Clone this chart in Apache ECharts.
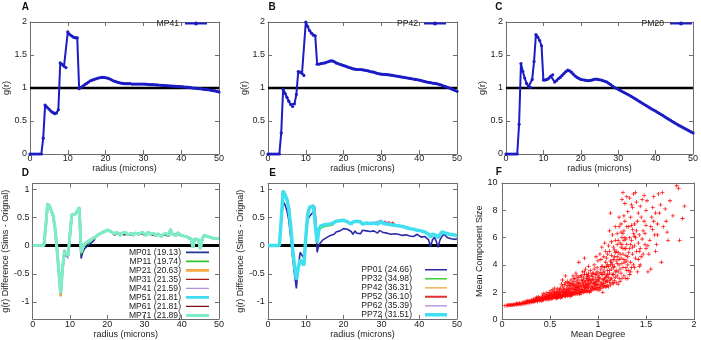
<!DOCTYPE html>
<html><head><meta charset="utf-8">
<script src="https://cdn.jsdelivr.net/npm/echarts@6/dist/echarts.min.js"></script>
<style>html,body{margin:0;padding:0;background:#fff}#c{width:701px;height:340px}</style>
</head><body><div id="c"></div>
<script>
// ---------- data ----------
const radius = [0,0.5,1,1.5,2,2.5,3,3.5,4,4.5,5,5.5,6,6.5,7,7.5,8,8.5,9,9.5,10,10.5,11,11.5,12,12.5,13,13.5,14,14.5,15,15.5,16,16.5,17,17.5,18,18.5,19,19.5,20,20.5,21,21.5,22,22.5,23,23.5,24,24.5,25,25.5,26,26.5,27,27.5,28,28.5,29,29.5,30,30.5,31,31.5,32,32.5,33,33.5,34,34.5,35,35.5,36,36.5,37,37.5,38,38.5,39,39.5,40,40.5,41,41.5,42,42.5,43,43.5,44,44.5,45,45.5,46,46.5,47,47.5,48,48.5,49,49.5,50];

const gMP41 = [0,0,0,0,0,0,0,0.24,0.74,0.71,0.68,0.65,0.63,0.61,0.62,0.67,1.38,1.36,1.33,1.31,1.85,1.81,1.79,1.77,1.76,1.76,0.99,1.01,1.03,1.05,1.07,1.09,1.11,1.12,1.13,1.14,1.15,1.155,1.16,1.16,1.155,1.15,1.14,1.125,1.11,1.10,1.09,1.08,1.075,1.07,1.065,1.065,1.065,1.065,1.06,1.06,1.06,1.06,1.06,1.06,1.06,1.058,1.055,1.053,1.05,1.05,1.048,1.046,1.044,1.042,1.04,1.038,1.036,1.034,1.032,1.03,1.028,1.026,1.024,1.022,1.02,1.017,1.015,1.012,1.01,1.005,1.0,0.998,0.995,0.992,0.99,0.985,0.98,0.978,0.975,0.97,0.965,0.96,0.955,0.948,0.94];

const gPP42 = [0,0,0,0,0,0,0,0.32,0.98,0.92,0.86,0.80,0.75,0.72,0.76,0.90,1.25,1.24,1.22,1.19,2.0,1.93,1.87,1.83,1.80,1.79,1.36,1.36,1.37,1.375,1.38,1.39,1.40,1.41,1.41,1.40,1.38,1.37,1.36,1.35,1.34,1.33,1.32,1.31,1.30,1.29,1.285,1.28,1.28,1.28,1.275,1.27,1.265,1.26,1.25,1.245,1.24,1.23,1.22,1.215,1.21,1.207,1.205,1.202,1.20,1.195,1.19,1.185,1.18,1.175,1.17,1.165,1.16,1.155,1.15,1.145,1.14,1.135,1.13,1.125,1.12,1.112,1.105,1.097,1.09,1.085,1.08,1.075,1.07,1.065,1.06,1.05,1.04,1.03,1.02,1.01,1.0,0.988,0.975,0.962,0.95];

const gPM20 = [0,0,0,0,0,0,0,0.45,1.37,1.25,1.15,1.07,1.02,1.01,1.13,1.40,1.81,1.77,1.72,1.64,1.12,1.12,1.13,1.15,1.18,1.20,1.09,1.11,1.14,1.16,1.19,1.22,1.25,1.27,1.26,1.24,1.21,1.18,1.16,1.145,1.13,1.125,1.12,1.115,1.11,1.115,1.12,1.13,1.135,1.13,1.125,1.12,1.11,1.10,1.09,1.07,1.05,1.03,1.01,0.995,0.98,0.965,0.95,0.935,0.92,0.905,0.89,0.872,0.855,0.838,0.82,0.802,0.785,0.768,0.75,0.732,0.715,0.698,0.68,0.665,0.65,0.632,0.615,0.598,0.58,0.562,0.545,0.528,0.51,0.492,0.475,0.458,0.44,0.425,0.41,0.395,0.38,0.365,0.35,0.335,0.32];

// panel D: base curve and per-series corrections
const dMPBase = [0,0,0,0,0,0,0,0.35,0.74,0.70,0.62,0.52,0.3,-0.05,-0.45,-0.85,-0.4,-0.1,-0.14,-0.18,0.2,0.55,0.57,0.56,0.62,0.66,-0.12,-0.02,0.03,0.06,0.08,0.1,0.12,0.15,0.16,0.19,0.21,0.22,0.24,0.25,0.27,0.26,0.25,0.22,0.2,0.24,0.21,0.18,0.22,0.2,0.23,0.19,0.21,0.22,0.18,0.22,0.2,0.21,0.19,0.23,0.22,0.18,0.24,0.2,0.19,0.22,0.17,0.21,0.19,0.16,0.2,0.18,0.21,0.17,0.29,0.2,0.22,0.18,0.23,0.19,0.2,0.17,0.19,0.15,0.16,0.12,-0.04,0.12,0.15,0.1,-0.06,0.12,0.18,0.2,0.16,0.19,0.14,0.17,0.12,0.15,0.13];
const mp01Fix = [[17,-0.08],[18,-0.2],[19,-0.13],[26,-0.23],[27,-0.1],[28,-0.05],[29,-0.02],[30,0.01],[31,0.03],[32,0.06],[33,0.1]];
const mp11Fix = [[26,-0.16],[28,0.0],[29,0.03],[30,0.05],[31,0.08],[32,0.1]];
const mp21Fix = [[15,-0.9],[16,-0.42]];
const mp31Fix = [[45,0.22],[49,0.18],[57,0.19],[63,0.22],[71,0.2]];
const mp41Fix = [[18,-0.18],[19,-0.23],[20,0.15]];
const mp51Fix = [[25,0.68],[40,0.28]];
const mp61Fix = [[44,0.18],[47,0.2],[53,0.19],[59,0.2],[65,0.19],[69,0.18],[77,0.2],[85,0.1],[88,0.13]];
const mp71Fix = [];
const mpNames = ['MP01 (19.13)','MP11 (19.74)','MP21 (20.63)','MP31 (21.35)','MP41 (21.59)','MP51 (21.81)','MP61 (21.81)','MP71 (21.89)'];

// panel E
const dPP01 = [0,0,0,0,0,0,0,0.4,0.78,0.72,0.62,0.45,0.15,-0.2,-0.5,-0.76,-0.4,-0.12,-0.15,-0.22,0.1,0.45,0.52,0.55,0.6,0.55,-0.12,0.02,0.06,0.1,0.12,0.14,0.15,0.18,0.17,0.2,0.24,0.22,0.26,0.27,0.3,0.28,0.29,0.26,0.25,0.2,0.26,0.22,0.25,0.21,0.27,0.24,0.26,0.23,0.25,0.22,0.26,0.24,0.22,0.27,0.25,0.23,0.26,0.22,0.24,0.2,0.23,0.21,0.24,0.2,0.22,0.18,0.21,0.19,0.2,0.17,0.2,0.16,0.18,0.2,0.17,0.15,0.18,0.16,0.15,0.1,-0.02,0.1,0.15,0.08,-0.03,0.1,0.16,0.2,0.18,0.14,0.16,0.12,0.14,0.11,0.12];
const dPPBase = [0,0,0,0,0,0,0,0.45,0.97,0.9,0.82,0.65,0.35,-0.05,-0.35,-0.6,-0.4,-0.25,-0.28,-0.35,0.15,0.55,0.68,0.66,0.7,0.68,0.05,0.3,0.35,0.34,0.37,0.36,0.38,0.4,0.39,0.42,0.43,0.41,0.44,0.42,0.45,0.43,0.42,0.4,0.38,0.42,0.39,0.43,0.4,0.42,0.38,0.41,0.4,0.42,0.39,0.41,0.4,0.42,0.38,0.41,0.43,0.39,0.41,0.38,0.4,0.37,0.39,0.36,0.38,0.35,0.37,0.34,0.35,0.32,0.34,0.3,0.32,0.29,0.3,0.27,0.29,0.26,0.27,0.24,0.25,0.2,0.15,0.2,0.22,0.18,0.14,0.2,0.24,0.25,0.22,0.24,0.2,0.22,0.19,0.2,0.18];
const pp32Fix = [[27,0.26],[28,0.31],[29,0.31],[30,0.34],[31,0.33],[32,0.35],[33,0.37],[34,0.36],[35,0.39]];
const pp42Fix = [[8,0.95],[15,-0.58]];
const pp52Fix = [[60,0.44],[62,0.43],[64,0.42],[66,0.41]];
const pp62Fix = [[22,0.7],[23,0.68],[24,0.72],[58,0.43],[60,0.45],[62,0.43],[64,0.42]];
const pp72Fix = [];
const ppNames = ['PP01 (24.66)','PP32 (34.98)','PP42 (36.31)','PP52 (36.10)','PP62 (35.39)','PP72 (31.51)'];

// panel F: mean degree vs mean component size
const degreeSize = [
[0.03,1.02],[0.05,1.04],[0.06,1.03],[0.08,1.06],[0.09,1.05],[0.1,1.08],[0.07,1.07],
[0.11,1.07],[0.12,1.1],[0.13,1.09],[0.14,1.12],[0.15,1.1],[0.16,1.14],[0.17,1.13],[0.18,1.16],[0.19,1.12],[0.2,1.18],[0.15,1.17],[0.18,1.2],
[0.21,1.15],[0.22,1.2],[0.23,1.18],[0.24,1.25],[0.25,1.22],[0.26,1.28],[0.27,1.2],[0.28,1.3],[0.29,1.24],[0.3,1.33],[0.22,1.28],[0.25,1.35],[0.27,1.4],[0.29,1.38],[0.24,1.17],
[0.31,1.27],[0.32,1.35],[0.33,1.3],[0.34,1.42],[0.35,1.36],[0.36,1.48],[0.37,1.33],[0.38,1.45],[0.39,1.4],[0.4,1.52],[0.31,1.45],[0.33,1.5],[0.35,1.55],[0.37,1.6],[0.39,1.58],[0.32,1.38],[0.34,1.32],[0.36,1.4],[0.38,1.65],[0.4,1.42],[0.36,1.62],
[0.41,1.38],[0.42,1.5],[0.43,1.44],[0.44,1.6],[0.45,1.48],[0.46,1.7],[0.47,1.55],[0.48,1.65],[0.49,1.52],[0.5,1.75],[0.41,1.62],[0.42,1.72],[0.43,1.56],[0.44,1.8],[0.45,1.66],[0.46,1.52],[0.47,1.85],[0.48,1.45],[0.49,1.7],[0.5,1.6],[0.43,1.9],[0.46,1.95],[0.48,1.78],[0.5,1.9],[0.42,1.42],[0.45,1.58],[0.47,1.62],[0.49,2.0],
[0.51,1.5],[0.52,1.65],[0.53,1.58],[0.54,1.75],[0.55,1.62],[0.56,1.85],[0.57,1.7],[0.58,1.92],[0.59,1.66],[0.6,1.8],[0.51,1.82],[0.52,1.95],[0.53,1.72],[0.54,2.05],[0.55,1.88],[0.56,1.6],[0.57,2.1],[0.58,1.78],[0.59,2.0],[0.6,2.2],[0.51,2.1],[0.53,2.2],[0.55,2.0],[0.57,1.95],[0.59,1.85],[0.52,1.55],[0.54,1.68],[0.56,1.72],[0.58,1.6],[0.6,1.7],[0.55,2.3],[0.58,2.25],[0.53,1.85],[0.57,1.55],[0.6,2.05],
[0.61,1.6],[0.62,1.75],[0.63,1.68],[0.64,1.9],[0.65,1.72],[0.66,2.0],[0.67,1.82],[0.68,2.15],[0.69,1.78],[0.7,2.05],[0.61,1.95],[0.62,2.1],[0.63,1.85],[0.64,2.25],[0.65,2.0],[0.66,1.7],[0.67,2.3],[0.68,1.9],[0.69,2.2],[0.7,2.4],[0.61,2.3],[0.63,2.45],[0.65,2.2],[0.67,2.1],[0.69,2.0],[0.62,1.65],[0.64,1.8],[0.66,1.85],[0.68,1.72],[0.7,1.85],[0.65,2.55],[0.68,2.5],[0.63,2.05],[0.67,1.95],[0.7,2.25],[0.62,2.6],[0.66,2.7],[0.69,2.65],[0.64,2.0],[0.61,1.8],[0.66,3.2],[0.63,2.9],
[0.71,1.7],[0.72,1.9],[0.73,1.8],[0.74,2.05],[0.75,1.85],[0.76,2.2],[0.77,1.95],[0.78,2.35],[0.79,1.9],[0.8,2.25],[0.71,2.1],[0.72,2.3],[0.73,2.0],[0.74,2.45],[0.75,2.2],[0.76,1.88],[0.77,2.5],[0.78,2.1],[0.79,2.4],[0.8,2.6],[0.71,2.5],[0.73,2.65],[0.75,2.4],[0.77,2.3],[0.79,2.15],[0.72,1.78],[0.74,1.95],[0.76,2.0],[0.78,1.9],[0.8,2.0],[0.75,2.8],[0.78,2.75],[0.73,2.25],[0.77,2.15],[0.8,2.4],[0.72,2.9],[0.76,3.0],[0.79,2.9],[0.74,2.6],[0.71,1.9],[0.76,2.55],[0.79,2.65],[0.74,3.2],[0.77,3.4],[0.8,3.1],
[0.81,1.85],[0.82,2.05],[0.83,1.95],[0.84,2.2],[0.85,2.0],[0.86,2.4],[0.87,2.1],[0.88,2.55],[0.89,2.05],[0.9,2.4],[0.81,2.3],[0.82,2.5],[0.83,2.2],[0.84,2.65],[0.85,2.4],[0.86,2.05],[0.87,2.75],[0.88,2.3],[0.89,2.6],[0.9,2.85],[0.81,2.7],[0.83,2.9],[0.85,2.6],[0.87,2.5],[0.89,2.35],[0.82,1.95],[0.84,2.1],[0.86,2.2],[0.88,2.05],[0.9,2.15],[0.85,3.05],[0.88,3.0],[0.83,2.45],[0.87,2.35],[0.9,2.6],[0.82,3.2],[0.86,3.3],[0.89,3.15],[0.84,2.85],[0.81,2.05],[0.86,2.8],[0.89,2.9],[0.84,3.5],[0.87,3.7],[0.9,3.4],[0.8,4.2],[0.86,4.5],[0.9,3.9],
[0.91,2.0],[0.92,2.25],[0.93,2.1],[0.94,2.45],[0.95,2.2],[0.96,2.65],[0.97,2.3],[0.98,2.8],[0.99,2.25],[1.0,2.6],[0.91,2.55],[0.92,2.75],[0.93,2.4],[0.94,2.95],[0.95,2.65],[0.96,2.25],[0.97,3.05],[0.98,2.5],[0.99,2.9],[1.0,3.2],[0.91,3.0],[0.93,3.25],[0.95,2.9],[0.97,2.7],[0.99,2.55],[0.92,2.1],[0.94,2.3],[0.96,2.4],[0.98,2.2],[1.0,2.35],[0.95,3.4],[0.98,3.35],[0.93,2.75],[0.97,2.6],[1.0,2.9],[0.92,3.6],[0.96,3.7],[0.99,3.5],[0.94,3.15],[0.96,4.0],
[1.01,2.15],[1.02,2.45],[1.03,2.3],[1.04,2.7],[1.05,2.4],[1.06,2.9],[1.07,2.5],[1.08,3.1],[1.09,2.45],[1.1,2.85],[1.01,2.8],[1.02,3.0],[1.03,2.6],[1.04,3.3],[1.05,2.95],[1.06,2.4],[1.07,3.4],[1.08,2.75],[1.09,3.2],[1.1,3.6],[1.01,3.4],[1.03,3.7],[1.05,3.3],[1.07,3.0],[1.09,2.8],[1.02,2.3],[1.04,2.55],[1.06,2.65],[1.08,2.4],[1.1,2.5],[1.05,3.9],[1.08,4.2],[1.03,4.4],[1.07,3.8],[1.1,4.0],[1.05,2.0],[1.02,4.8],[1.08,5.0],
[1.11,2.4],[1.12,2.75],[1.13,2.55],[1.14,3.0],[1.15,2.7],[1.16,3.3],[1.17,2.85],[1.18,3.5],[1.19,2.7],[1.2,3.2],[1.11,3.1],[1.12,3.4],[1.13,2.95],[1.14,3.7],[1.15,3.3],[1.16,2.65],[1.17,3.9],[1.18,3.1],[1.19,3.6],[1.2,4.1],[1.11,3.9],[1.13,4.3],[1.15,4.0],[1.17,4.6],[1.19,4.3],[1.12,5.0],[1.14,4.7],[1.16,5.3],[1.18,4.9],[1.2,5.5],[1.15,6.2],[1.18,6.8],[1.13,7.8],[1.12,6.5],
[1.21,2.6],[1.22,3.0],[1.23,2.8],[1.24,3.4],[1.25,3.0],[1.26,3.8],[1.27,3.2],[1.28,4.2],[1.29,3.0],[1.3,3.6],[1.21,3.5],[1.22,4.0],[1.23,3.7],[1.24,4.5],[1.25,4.1],[1.26,4.8],[1.27,4.4],[1.28,5.2],[1.29,4.7],[1.3,5.5],[1.21,4.9],[1.23,5.6],[1.25,6.0],[1.27,6.5],[1.29,5.9],[1.22,6.8],[1.24,7.0],[1.26,6.3],[1.28,7.2],[1.3,6.8],[1.25,8.8],[1.26,9.3],[1.28,8.5],[1.3,9.0],[1.22,7.5],
[1.31,3.0],[1.32,3.6],[1.33,3.3],[1.34,4.2],[1.35,3.8],[1.36,4.8],[1.37,4.0],[1.38,5.4],[1.39,4.5],[1.4,5.0],[1.31,4.6],[1.33,5.2],[1.35,5.8],[1.37,6.3],[1.39,6.0],[1.32,6.8],[1.34,7.5],[1.36,8.2],[1.38,7.0],[1.4,8.6],[1.33,8.9],[1.37,9.2],[1.35,8.4],[1.31,7.9],[1.39,9.3],[1.36,6.6],
[1.41,3.5],[1.42,4.4],[1.43,3.9],[1.44,5.2],[1.45,4.6],[1.46,5.9],[1.47,6.5],[1.48,7.2],[1.49,5.5],[1.5,6.9],[1.42,7.8],[1.44,8.3],[1.46,8.8],[1.48,9.1],[1.5,8.0],[1.43,6.2],
[1.52,3.5],[1.53,4.8],[1.54,5.8],[1.55,6.8],[1.56,7.5],[1.57,8.2],[1.58,9.0],[1.6,7.8],[1.55,3.7],[1.59,6.2],[1.51,8.7],
[1.61,5.5],[1.62,7.0],[1.63,9.2],[1.64,7.8],[1.65,8.4],[1.66,4.2],[1.68,6.8],[1.67,9.3],
[1.71,7.2],[1.73,5.8],[1.75,8.7],[1.72,6.4],[1.78,7.6],
[1.82,9.8],[1.85,5.8],[1.88,7.4],[1.9,8.3],[1.84,9.6],
[0.92,2.9],[0.94,3.4],[0.97,3.3],[0.99,3.8],[1.0,4.3],[0.98,4.6],[1.01,3.1],[1.03,3.45],[1.04,3.9],[1.06,3.55],[1.06,4.6],[1.09,4.5],[1.1,3.3],[1.09,3.9],[1.04,5.3],[1.07,5.6],[1.1,4.8],[1.12,3.6],[1.13,4.0],[1.14,4.2],[1.16,3.8],[1.16,4.4],[1.17,5.1],[1.19,5.0],[1.18,5.8],[1.2,4.6],[1.21,5.8],[1.14,5.7],[1.2,6.3],[1.11,5.4],[1.22,4.4],[1.23,4.8],[1.24,5.3],[1.25,5.5],[1.26,5.2],[1.27,5.8],[1.28,6.0],[1.29,5.2],[1.3,4.3],[1.27,7.6],[1.24,6.4],[1.32,4.9],[1.33,6.0],[1.34,5.5],[1.35,6.9],[1.36,5.3],[1.38,6.1],[1.4,6.5],[1.41,7.2],[1.43,5.0],[1.45,7.5],[1.47,4.8],[1.49,6.3],[1.42,5.6],[1.38,3.8],[1.34,3.5],[1.29,3.8],[1.31,4.0],[1.44,4.0],[1.5,5.2],[1.52,5.4],[1.57,6.6],[1.6,5.0],[1.62,6.2],[1.58,7.2],[1.7,8.1],[0.86,3.5],[0.88,3.3],[0.9,3.2],[0.83,3.2],[0.78,3.2],[0.75,3.0],[0.7,2.7],[0.72,2.6],[0.68,2.8]
];

const diffTicks = [-1,-0.5,0,0.5,1];

// ---------- chart ----------
const FONT = 'Liberation Sans';
const AX = '#6e6e6e';
function pairs(ys){ return radius.map((r,i)=>[r, ys[i]]); }
function fixed(base, fixes){ const a = base.slice(); fixes.forEach(f=>{a[f[0]] = f[1];}); return a; }

const grids = [
  {left:30, top:22, width:189, height:132},
  {left:268, top:22, width:189, height:132},
  {left:506, top:22, width:188, height:132},
  {left:30, top:183.5, width:189, height:136.5},
  {left:268, top:183.5, width:189, height:136.5},
  {left:502, top:183, width:192, height:137}
];

const xAxes = [], yAxes = [];
function frameCommon(){
  return {splitLine:{show:false}, axisLine:{show:true, onZero:false, lineStyle:{color:AX, width:1}},
    axisTick:{show:true, inside:true, length:4, lineStyle:{color:AX, width:1}}};
}
function addX(g, min, max, interval, name, margin, nameGap){
  xAxes.push(Object.assign(frameCommon(), {type:'value', gridIndex:g, position:'bottom', min, max, interval,
    name, nameLocation:'middle', nameGap,
    nameTextStyle:{fontFamily:FONT, fontSize:9, color:'#222', lineHeight:9},
    axisLabel:{margin, fontFamily:FONT, fontSize:9, color:'#222', lineHeight:9}}));
  xAxes.push(Object.assign(frameCommon(), {type:'value', gridIndex:g, position:'top', min, max, interval,
    axisLabel:{show:false}}));
}
function addY(g, min, max, interval, custom, name, nameGap, margin){
  const lbl = {margin, fontFamily:FONT, fontSize:9, color:'#222'};
  const left = Object.assign(frameCommon(), {type:'value', gridIndex:g, position:'left', min, max,
    name, nameLocation:'middle', nameGap, nameRotate:90,
    nameTextStyle:{fontFamily:FONT, fontSize:9, color:'#222'}, axisLabel:lbl});
  const right = Object.assign(frameCommon(), {type:'value', gridIndex:g, position:'right', min, max,
    axisLabel:{show:false}});
  if (custom){
    left.axisLabel.customValues = custom; left.axisTick.customValues = custom;
    right.axisTick.customValues = custom;
  } else { left.interval = interval; right.interval = interval; }
  yAxes.push(left, right);
}
for (let g=0; g<3; g++){
  addX(g, 0, 50, 10, 'radius (microns)', 0, 7);
  addY(g, 0, 2, 0.5, null, 'g(r)', 15, 3);
}
for (let g=3; g<5; g++){
  addX(g, 0, 50, 10, 'radius (microns)', 1.2, 8.8);
  addY(g, -1.3, 1.1, null, diffTicks, 'g(r) Difference (Sims - Orignal)', 18, 3.3);
}
addX(5, 0, 2, 0.5, 'Mean Degree', 0.5, 8.5);
addY(5, 0, 10, 2, null, 'Mean Component Size', 15.8, 4.5);

const series = [];
function refLine(g, y){
  series.push({type:'line', name:'_ref'+g, xAxisIndex:2*g, yAxisIndex:2*g, data:[[0,y],[50,y]],
    symbol:'none', silent:true, z:1, lineStyle:{color:'#000', width: g<3 ? 2.5 : 3}});
}
const BLUE = '#1c1cc4';
[[0,'MP41',gMP41],[1,'PP42',gPP42],[2,'PM20',gPM20]].forEach(([g,n,v])=>{
  refLine(g, 1);
  series.push({type:'line', name:n, xAxisIndex:2*g, yAxisIndex:2*g, data:pairs(v), z:3,
    symbol:'circle', symbolSize:3.2, showSymbol:true,
    itemStyle:{color:BLUE}, lineStyle:{color:BLUE, width:2}});
});

refLine(3, 0);
const mpVals = [fixed(dMPBase,mp01Fix),fixed(dMPBase,mp11Fix),fixed(dMPBase,mp21Fix),fixed(dMPBase,mp31Fix),
  fixed(dMPBase,mp41Fix),fixed(dMPBase,mp51Fix),fixed(dMPBase,mp61Fix),fixed(dMPBase,mp71Fix)];
const mpColors = ['#27309a','#2ec82e','#f4a640','#a51a1a','#b38ee0','#3fdcf0','#7a1010','#7eecc8'];
const mpWidths = [1.6,1.6,2.6,1.4,1.2,2.6,1.4,3];
mpNames.forEach((n,i)=>{
  series.push({type:'line', name:n, xAxisIndex:6, yAxisIndex:6, data:pairs(mpVals[i]), z:3,
    symbol:'none', itemStyle:{color:mpColors[i]}, lineStyle:{color:mpColors[i], width:mpWidths[i]}});
});

refLine(4, 0);
const ppVals = [dPP01, fixed(dPPBase,pp32Fix), fixed(dPPBase,pp42Fix), fixed(dPPBase,pp52Fix), fixed(dPPBase,pp62Fix), fixed(dPPBase,pp72Fix)];
const ppColors = ['#2a2aa8','#3cd03c','#f0a030','#e03030','#b080e0','#40e0f0'];
const ppWidths = [1.6,1.6,1.2,2,1.2,3.5];
ppNames.forEach((n,i)=>{
  series.push({type:'line', name:n, xAxisIndex:8, yAxisIndex:8, data:pairs(ppVals[i]), z:3,
    symbol:'none', itemStyle:{color:ppColors[i]}, lineStyle:{color:ppColors[i], width:ppWidths[i]}});
});

series.push({type:'scatter', name:'degree', xAxisIndex:10, yAxisIndex:10, data:degreeSize,
  symbol:'path://M4,0H6V4H10V6H6V10H4V6H0V4H4Z', symbolSize:4,
  itemStyle:{color:'#ff0000', opacity:0.9}});

// legend line icon: a horizontal bar of the series line width, centred in a 10-unit tall box
function barIcon(w){
  const h = w / 0.88, a = (5 - h/2).toFixed(2), b = (5 + h/2).toFixed(2);
  return 'path://M0,0L0.01,0L0,0.01ZM23,10L22.99,10L23,9.99ZM0,' + a + 'H23V' + b + 'H0Z';
}
const legTxt = {fontFamily:FONT, fontSize:8.6, color:'#222', lineHeight:9};
const legends = [
  {data:['MP41'], right:493, top:19},
  {data:['PP42'], right:254, top:19},
  {data:['PM20'], right:8, top:19}
].map(l=>Object.assign({padding:0, align:'right', itemWidth:22, itemHeight:5, selectedMode:false,
  textStyle:Object.assign({}, legTxt, {padding:[0,1,0,0]})}, l));
legends.push({data:mpNames.map((n,i)=>({name:n, icon:barIcon(mpWidths[i])})), orient:'vertical', right:492, top:247.9,
  padding:0, align:'right', itemGap:0, symbolKeepAspect:false,
  itemWidth:23, itemHeight:8.8, selectedMode:false, textStyle:Object.assign({}, legTxt, {lineHeight:8.8})});
legends.push({data:ppNames.map((n,i)=>({name:n, icon:barIcon(ppWidths[i])})), orient:'vertical', right:254, top:265.3,
  padding:0, align:'right', itemGap:0, symbolKeepAspect:false,
  itemWidth:22, itemHeight:8.8, selectedMode:false, textStyle:Object.assign({}, legTxt, {lineHeight:8.8, padding:[0,8,0,0]})});

const letterFont = 'bold 10px "Liberation Sans"';
const letters = [['A',21.7,2.3],['B',268.5,2.3],['C',495.3,2.3],['D',21.7,168.3],['E',269.3,168.3],['F',495.7,167.5]];

const chart = echarts.init(document.getElementById('c'), null, {renderer:'canvas'});
chart.setOption({
  animation:false,
  backgroundColor:'#fff',
  grid:grids,
  xAxis:xAxes,
  yAxis:yAxes,
  legend:legends,
  series:series,
  graphic:letters.map(([t,x,y])=>({type:'text', left:x, top:y, style:{text:t, font:letterFont, fill:'#111'}}))
});
</script></body></html>
